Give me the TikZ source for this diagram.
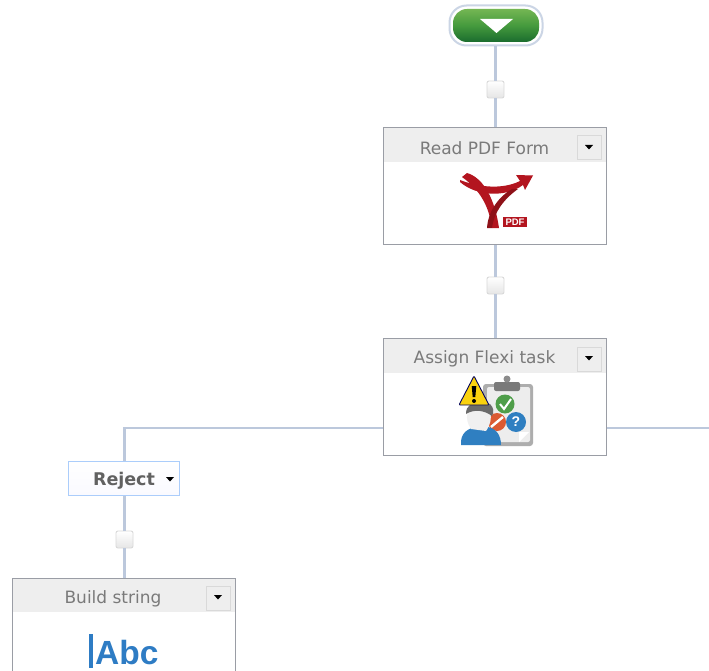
\documentclass[tikz,border=0pt]{standalone}
\usepackage{fontspec}
\setmainfont{DejaVu Sans}
\newfontfamily\icofont{Liberation Sans}
\definecolor{wire}{HTML}{BCC8DC}
\definecolor{boxline}{HTML}{9A9DA5}
\definecolor{headfill}{HTML}{EEEEEE}
\definecolor{labeltext}{HTML}{7A7A7A}
\definecolor{pdfred}{HTML}{B3151F}
\definecolor{pdfdark}{HTML}{8E1118}
\definecolor{pilltop}{HTML}{74B653}
\definecolor{pillmid}{HTML}{459A3D}
\definecolor{pillbot}{HTML}{1A6C2E}
\definecolor{pillrim}{HTML}{CBD5E5}
\definecolor{rejectrim}{HTML}{ABCDFB}
\definecolor{icoblue}{HTML}{2F7FC1}
\definecolor{icogreen}{HTML}{4F9E4A}
\definecolor{icored}{HTML}{DB5A33}
\definecolor{icoyellow}{HTML}{FAD20E}
\definecolor{abcblue}{HTML}{2E7CC4}
\tikzset{
  x=1pt,y=-1pt,
  wireline/.style={draw=wire,line width=2.6pt},
  taskbox/.style={draw=boxline,line width=1.3pt,fill=white,minimum width=223pt,minimum height=117pt,inner sep=0pt,anchor=north west,outer sep=0pt},
  headband/.style={fill=headfill,minimum width=222pt,minimum height=34pt,inner sep=0pt,anchor=north west},
  tasklabel/.style={text=labeltext,font=\fontsize{17}{19}\selectfont,inner sep=0pt},
  menubtn/.style={draw=black!15,line width=.9pt,fill=headfill,minimum size=24pt,inner sep=0pt,anchor=north west},
  menutri/.style={fill=black,draw=none},
  junction/.style={draw=black!15,line width=.9pt,rounded corners=2pt,top color=white,bottom color=black!10,minimum size=17pt,inner sep=0pt},
}
\begin{document}
\begin{tikzpicture}
\useasboundingbox (0,0) rectangle (709,671);
\clip (0,0) rectangle (709,671);
\fill[white] (0,0) rectangle (709,671);

% nodes
\node[draw=pillrim,fill=white,line width=2pt,rounded corners=17pt,minimum width=93pt,minimum height=40pt,inner sep=0pt] (start) at (496,25.5) {};
\node[rounded corners=14pt,top color=pilltop,bottom color=pillbot,middle color=pillmid,minimum width=86pt,minimum height=33pt,inner sep=0pt] (startfill) at (496,25.5) {};
\node[taskbox] (read) at (383.5,127.5) {};
\node[taskbox] (assign) at (383.5,338.5) {};
\node[taskbox] (build) at (12.5,578.5) {};
\node[draw=rejectrim,line width=1.2pt,top color=white,bottom color=blue!2!white,minimum width=111pt,minimum height=34pt,inner sep=0pt,anchor=north west] (reject) at (68,461) {};
\node[junction] (j1) at (495.5,89.5) {};
\node[junction] (j2) at (495.5,285.5) {};
\node[junction] (j3) at (124.5,539.5) {};
\coordinate (elbow) at (124.5,428);
\coordinate (rightend) at (709,428);
\coordinate (leftport) at (384,428);
\coordinate (rightport) at (607,428);

% connectors
\draw[wireline] (start.south -| j1) -- (j1.north);
\draw[wireline] (j1.south) -- (j1 |- read.north);
\draw[wireline] (j1 |- read.south) -- (j2.north);
\draw[wireline] (j2.south) -- (j2 |- assign.north);
\draw[wireline] (leftport) -- (elbow) -- (elbow |- reject.north);
\draw[wireline] (rightport) -- (rightend);
\draw[wireline] (elbow |- reject.south) -- (j3.north);
\draw[wireline] (j3.south) -- (j3 |- build.north);

% start triangle
\fill[white] (480,19) -- (513,19) -- (496.5,33) -- cycle;

% headers
\node[headband] (readhead) at (384,128) {};
\node[headband] (assignhead) at (384,339) {};
\node[headband,minimum height=33pt] (buildhead) at (13,579) {};
\draw[boxline,line width=1.3pt] (383.5,127.5) rectangle (606.5,244.5);
\draw[boxline,line width=1.3pt] (383.5,338.5) rectangle (606.5,455.5);
\draw[boxline,line width=1.3pt] (12.5,578.5) rectangle (235.5,700);

\node[tasklabel] (readtxt) at (484.5,148) {Read PDF Form};
\node[tasklabel] (assigntxt) at (484.5,359) {Assign Flexi task};
\node[tasklabel] (buildtxt) at (113,599) {Build string};
\node[text=black!62,font=\bfseries\fontsize{17.5}{19}\selectfont,inner sep=0pt] (rejecttxt) at (124,481) {Reject};

\node[menubtn] (b1) at (576.5,135.5) {};
\node[menubtn] (b2) at (576.5,346.5) {};
\node[menubtn] (b3) at (205.5,585.5) {};
\fill[menutri] (585,145) -- (593,145) -- (589,149.5) -- cycle;
\fill[menutri] (585,356) -- (593,356) -- (589,360.5) -- cycle;
\fill[menutri] (214,595) -- (222,595) -- (218,599.5) -- cycle;
\fill[menutri] (166,477) -- (174,477) -- (170,481.5) -- cycle;

% PDF icon
\fill[pdfred] (460,180) .. controls (478,187) and (502,190) .. (520,181) -- (516,175) -- (533,175.5) -- (525,190) -- (523,185) .. controls (505,198) and (476,196) .. (460,182) -- cycle;
\fill[pdfred] (467,173) .. controls (484,178) and (495,200) .. (499,228) -- (492,228) .. controls (489,206) and (480,190) .. (462,177) -- cycle;
\fill[pdfdark] (512,189) .. controls (498,197) and (488,212) .. (487,228) -- (492,228) .. controls (494,212) and (504,199) .. (518,189) -- cycle;
\node[fill=pdfred,text=white,font=\icofont\bfseries\fontsize{9.5}{10}\selectfont,minimum width=24pt,minimum height=10.5pt,inner sep=0pt] (pdftag) at (515,222) {PDF};

% Flexi task icon
\fill[black!32,rounded corners=3pt] (483,384) rectangle (533,446);
\fill[black!7,rounded corners=2pt] (487,387) rectangle (530,442);
\fill[white] (519,432) -- (529,432) -- (519,442) -- cycle;
\fill[black!52,rounded corners=2pt] (494,382) rectangle (520,391);
\fill[black!45] (507,379) circle (3.5pt);
\fill[icogreen] (505,404) circle (9.5pt);
\draw[white,line width=2pt] (500,404) -- (504,409) -- (511,399);
\fill[icored] (497,422) circle (9pt);
\draw[white,line width=2.4pt] (491,427) -- (503,417);
\fill[icoblue] (516,422) circle (10pt);
\node[text=white,font=\icofont\bfseries\fontsize{14}{14}\selectfont,inner sep=0pt] (qmark) at (516,422) {?};
\fill[icoblue] (461,445) .. controls (460,433) and (468,428) .. (477,427) -- (488,427) .. controls (497,429) and (501,436) .. (501,445) -- cycle;
\fill[black!6] (471,429) .. controls (464,418) and (466,408) .. (478,405) .. controls (491,405) and (495,418) .. (486,431) -- cycle;
\fill[black!58] (466,414) .. controls (466,405) and (472,402) .. (482,402) -- (490,404) .. controls (494,408) and (494,412) .. (492,416) .. controls (484,410) and (474,409) .. (466,414) -- cycle;
\fill[icoyellow,draw=black!40!blue!60!black,line width=.9pt,line join=round,rounded corners=1pt] (474,376) -- (489,405) -- (459,405) -- cycle;
\fill[black] (474,386) -- (476.3,386) -- (475.3,397) -- (472.7,397) -- (471.7,386) -- cycle;
\fill[black] (474,401) circle (2pt);

% Abc icon
\fill[abcblue] (88.5,634) rectangle (92.5,668);
\node[text=abcblue,font=\icofont\bfseries\fontsize{33.5}{33}\selectfont,inner sep=0pt,anchor=base west] (abc) at (95,664.5) {Abc};
\end{tikzpicture}
\end{document}
